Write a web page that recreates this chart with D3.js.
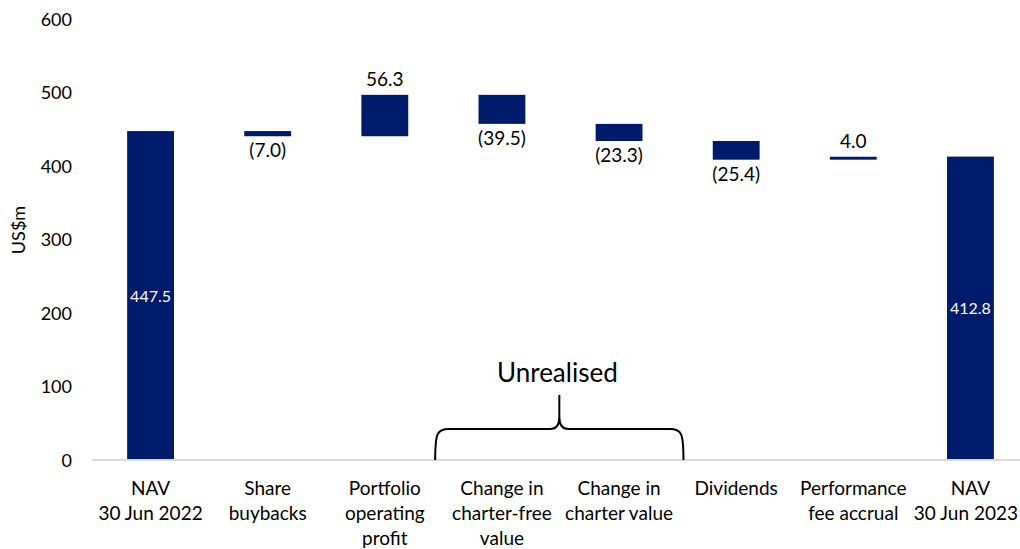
<!DOCTYPE html>
<html>
<head>
<meta charset="utf-8">
<script src="https://cdn.jsdelivr.net/npm/d3@7"></script>
<style>
  body { margin: 0; background: #fff; }
  svg text { font-family: Lato, "Open Sans", sans-serif; fill: #000; }
  .axis path, .axis line { display: none; }
  .axis text { font-size: 18px; }
  .baseline { stroke: #d9d9d9; stroke-width: 2; }
  .bar { fill: #001a6c; }
  .value { font-size: 19px; text-anchor: middle; }
  .value-in { font-size: 16px; text-anchor: middle; fill: #fff !important; }
  .cat { font-size: 19px; text-anchor: middle; }
  .brace { fill: none; stroke: #000; stroke-width: 2; }
</style>
</head>
<body>
<div id="chart"></div>
<script>
// Chart size
let width = 1020;
let height = 549;

// Categories (each line of a label separated by |)
let categories = [
    "NAV|30 Jun 2022",
    "Share|buybacks",
    "Portfolio|operating|profit",
    "Change in|charter-free|value",
    "Change in|charter value",
    "Dividends",
    "Performance|fee accrual",
    "NAV|30 Jun 2023"
];

// Where each bar starts and ends (US$m)
let barStart = [0, 447.5, 440.5, 496.8, 457.3, 434.0, 408.6, 0];
let barEnd   = [447.5, 440.5, 496.8, 457.3, 434.0, 408.6, 412.6, 412.8];

// Label text for each bar
let labels = ["447.5", "(7.0)", "56.3", "(39.5)", "(23.3)", "(25.4)", "4.0", "412.8"];

let yTicks = [0, 100, 200, 300, 400, 500, 600];

let dataset = categories.map(function (c, i) {
    return { cat: c, start: barStart[i], end: barEnd[i], label: labels[i], total: (i === 0 || i === categories.length - 1) };
});

let svg = d3.select("#chart")
    .append("svg")
    .attr("width", width)
    .attr("height", height);

// Scales
let xScale = d3.scaleBand()
    .domain(categories)
    .range([92, 1029])
    .paddingInner(0.6)
    .paddingOuter(0.3);

let yScale = d3.scaleLinear()
    .domain([0, 600])
    .range([460, 19]);

// Y axis (labels only)
let yAxis = d3.axisLeft(yScale)
    .tickValues(yTicks)
    .tickSize(0)
    .tickPadding(0);

svg.append("g")
    .attr("class", "axis")
    .attr("transform", "translate(72, 0)")
    .call(yAxis)
    .selectAll("text")
    .attr("dy", "0.35em");

svg.append("text")
    .attr("transform", "translate(25, 230) rotate(-90)")
    .attr("text-anchor", "middle")
    .style("font-size", "18px")
    .text("US$m");

// Bars
svg.selectAll(".bar")
    .data(dataset)
    .enter()
    .append("rect")
    .attr("class", "bar")
    .attr("x", function (d) { return xScale(d.cat); })
    .attr("width", xScale.bandwidth())
    .attr("y", function (d) { return yScale(Math.max(d.start, d.end)); })
    .attr("height", function (d) { return Math.abs(yScale(d.start) - yScale(d.end)); });

// Baseline
svg.append("line")
    .attr("class", "baseline")
    .attr("x1", 92)
    .attr("x2", width)
    .attr("y1", yScale(0))
    .attr("y2", yScale(0));

// Value labels: totals inside, increases above, decreases below
svg.selectAll(".lbl")
    .data(dataset)
    .enter()
    .append("text")
    .attr("class", function (d) { return d.total ? "value-in" : "value"; })
    .attr("x", function (d) { return xScale(d.cat) + xScale.bandwidth() / 2; })
    .attr("y", function (d) {
        if (d.total) return yScale(d.end / 2) + 6;
        if (d.end >= d.start) return yScale(d.end) - 9;
        return yScale(d.end) + 21;
    })
    .text(function (d) { return d.label; });

// Category labels
let catG = svg.selectAll(".catg")
    .data(dataset)
    .enter()
    .append("text")
    .attr("class", "cat")
    .attr("x", function (d) { return xScale(d.cat) + xScale.bandwidth() / 2; })
    .attr("y", 495);

catG.selectAll("tspan")
    .data(function (d) {
        let cx = xScale(d.cat) + xScale.bandwidth() / 2;
        return d.cat.split("|").map(function (t) { return { t: t, cx: cx }; });
    })
    .enter()
    .append("tspan")
    .attr("x", function (d) { return d.cx; })
    .attr("dy", function (d, i) { return i === 0 ? 0 : 25; })
    .text(function (d) { return d.t; });

// keep the last label inside the picture
catG.selectAll("tspan").each(function (d) {
    let w = this.getComputedTextLength();
    if (d.cx + w / 2 > width - 2) {
        d3.select(this).attr("x", width - 2 - w / 2);
    }
});

// Curly brace over the two "Unrealised" categories
let step = xScale.step();
let half = xScale.bandwidth() / 2;
let bx0 = xScale(categories[3]) + half - step * 0.57;
let bx1 = xScale(categories[4]) + half + step * 0.55;
let bm = (bx0 + bx1) / 2;
let yb = yScale(0);
let yh = yb - 31;
let yp = yb - 65;
let r = 9;

let braceD = "M" + bx0 + "," + yb +
    " C" + bx0 + "," + (yh + 4) + " " + (bx0 + 2) + "," + yh + " " + (bx0 + r * 1.5) + "," + yh +
    " L" + (bm - r) + "," + yh +
    " Q" + bm + "," + yh + " " + bm + "," + (yh - 12) +
    " L" + bm + "," + yp +
    " M" + bm + "," + (yh - 12) +
    " Q" + bm + "," + yh + " " + (bm + r) + "," + yh +
    " L" + (bx1 - r * 1.5) + "," + yh +
    " C" + (bx1 - 2) + "," + yh + " " + bx1 + "," + (yh + 4) + " " + bx1 + "," + yb;

svg.append("path")
    .attr("class", "brace")
    .attr("d", braceD);

svg.append("text")
    .attr("x", bm - 2)
    .attr("y", yp - 13)
    .attr("text-anchor", "middle")
    .style("font-size", "26px")
    .text("Unrealised");
</script>
</body>
</html>
